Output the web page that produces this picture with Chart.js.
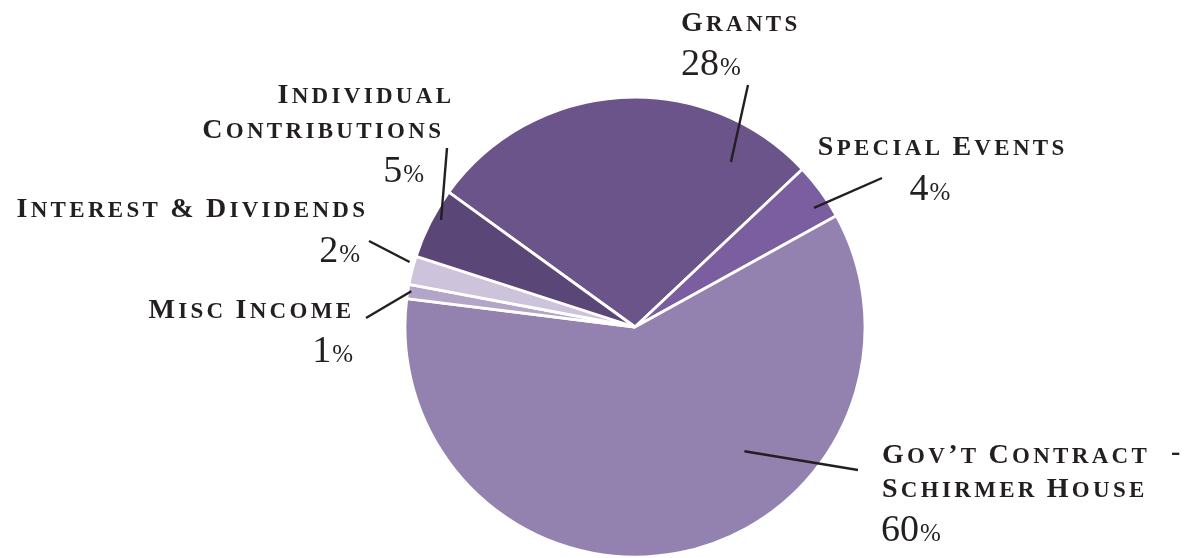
<!DOCTYPE html>
<html>
<head>
<meta charset="utf-8">
<script src="https://cdn.jsdelivr.net/npm/chart.js@4.4.1/dist/chart.umd.min.js"></script>
<style>
  html, body { margin: 0; padding: 0; background: #fff; }
  #wrap { width: 1184px; height: 558px; position: relative; }
</style>
</head>
<body>
<div id="wrap"><canvas id="pie" width="1184" height="558"></canvas></div>
<script>
// Revenue sources, clockwise from the Grants slice
const categories = ["Grants", "Special Events", "Gov’t Contract - Schirmer House", "Misc Income", "Interest & Dividends", "Individual Contributions"];
const shares = [28, 4, 60, 1, 2, 5];
const sliceColors = ["#6b5489", "#7a5ea0", "#9381b0", "#b2a5c8", "#cdc3da", "#5a4677"];

// label layout: text lines, leader line, and where it meets the slice
const LABELS = [
  { lines: [{ t: "Grants", x: 681, y: 31, a: "left" }], pct: { x: 681, y: 75, a: "left" },
    from: [748, 85], at: 0.836, r: 0.83 },
  { lines: [{ t: "Special Events", x: 941, y: 155, a: "center" }], pct: { x: 930, y: 200, a: "center" },
    from: [882, 178], at: 0.67, r: 0.935 },
  { lines: [{ t: "Gov’t Contract", x: 882, y: 463, a: "left" }, { t: "-", x: 1171, y: 460, a: "left" },
            { t: "Schirmer House", x: 882, y: 497, a: "left" }], pct: { x: 881, y: 541, a: "left" },
    from: [858, 470], at: 0.359, r: 0.72 },
  { lines: [{ t: "Misc Income", x: 351, y: 318, a: "right" }], pct: { x: 353, y: 362, a: "right" },
    from: [366, 318], at: 0.55, r: 0.985 },
  { lines: [{ t: "Interest & Dividends", x: 365, y: 217, a: "right" }], pct: { x: 360, y: 262, a: "right" },
    from: [369, 241], at: 0.75, r: 1.02 },
  { lines: [{ t: "Individual", x: 451, y: 103, a: "right" }, { t: "Contributions", x: 441, y: 138, a: "right" }],
    pct: { x: 424, y: 182, a: "right" }, from: [447, 148], at: 0.61, r: 0.963 },
];

const INK = "#231f20";
const SERIF = "'Liberation Serif', 'DejaVu Serif', serif";
const BIG = 28, SMALL = 23, TRACK = 3.3;

function smallCapsRuns(text) {
  const runs = [];
  for (const ch of text) {
    const big = ch !== ch.toLowerCase() || ch === "&" || ch === "’" || ch === "-";
    runs.push({ ch: ch.toUpperCase(), size: big ? BIG : SMALL });
  }
  return runs;
}

function drawSmallCaps(ctx, text, x, y, align) {
  const runs = smallCapsRuns(text);
  let w = 0;
  runs.forEach((r, i) => {
    ctx.font = `bold ${r.size}px ${SERIF}`;
    r.w = ctx.measureText(r.ch).width;
    w += r.w + (i < runs.length - 1 ? TRACK : 0);
  });
  let cx = align === "right" ? x - w : align === "center" ? x - w / 2 : x;
  ctx.textAlign = "left";
  ctx.textBaseline = "alphabetic";
  for (const r of runs) {
    ctx.font = `bold ${r.size}px ${SERIF}`;
    ctx.fillText(r.ch, cx, y);
    cx += r.w + TRACK;
  }
}

function drawPercent(ctx, value, x, y, align) {
  const num = String(value);
  ctx.font = `38px ${SERIF}`;
  const wn = ctx.measureText(num).width;
  ctx.font = `25px ${SERIF}`;
  const wp = ctx.measureText("%").width;
  const w = wn + 1 + wp;
  let cx = align === "right" ? x - w : align === "center" ? x - w / 2 : x;
  ctx.textAlign = "left";
  ctx.textBaseline = "alphabetic";
  ctx.font = `38px ${SERIF}`;
  ctx.fillText(num, cx, y);
  ctx.font = `25px ${SERIF}`;
  ctx.fillText("%", cx + wn + 1, y);
}

const labelPlugin = {
  id: "pieLabels",
  afterDraw(chart) {
    const ctx = chart.ctx;
    const arcs = chart.getDatasetMeta(0).data;
    ctx.save();
    ctx.fillStyle = INK;
    ctx.strokeStyle = INK;
    ctx.lineWidth = 2.4;
    LABELS.forEach((lab, i) => {
      const arc = arcs[i];
      const p = arc.getProps(["x", "y", "startAngle", "endAngle", "outerRadius"], true);
      const ang = p.startAngle + (p.endAngle - p.startAngle) * lab.at;
      const rr = p.outerRadius * lab.r;
      ctx.beginPath();
      ctx.moveTo(lab.from[0], lab.from[1]);
      ctx.lineTo(p.x + Math.cos(ang) * rr, p.y + Math.sin(ang) * rr);
      ctx.stroke();
      lab.lines.forEach(l => drawSmallCaps(ctx, l.t, l.x, l.y, l.a));
      drawPercent(ctx, shares[i], lab.pct.x, lab.pct.y, lab.pct.a);
    });
    ctx.restore();
  }
};

new Chart(document.getElementById("pie"), {
  type: "pie",
  data: {
    labels: categories,
    datasets: [{
      data: shares,
      backgroundColor: sliceColors,
      borderColor: "#ffffff",
      borderWidth: 2.8,
      radius: 230,
    }],
  },
  options: {
    responsive: false,
    animation: false,
    rotation: -54.1,
    layout: { padding: { left: 86, right: 0, top: 96, bottom: 0 } },
    plugins: { legend: { display: false }, tooltip: { enabled: false } },
  },
  plugins: [labelPlugin],
});
</script>
</body>
</html>
